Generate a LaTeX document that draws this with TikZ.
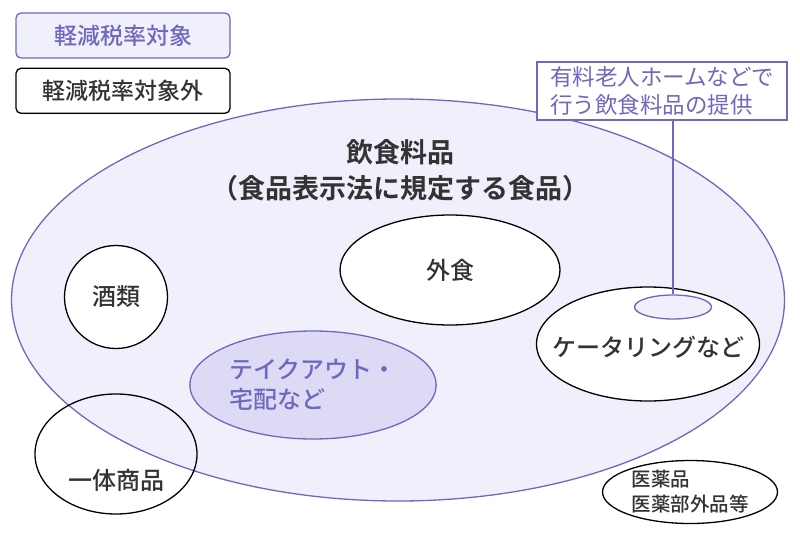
\documentclass[tikz,border=0pt]{standalone}
\usepackage{fontspec}
\setmainfont{Noto Sans CJK JP Medium}[BoldFont={Noto Sans CJK JP Bold}]
\newfontfamily\thinfont{Noto Sans CJK JP}
\usepackage{xcolor}
\usetikzlibrary{shapes.geometric,positioning}

\definecolor{lavfill}{RGB}{240,239,252}
\definecolor{lavdeep}{RGB}{221,218,245}
\definecolor{lavline}{RGB}{112,103,190}
\definecolor{lavtext}{RGB}{112,103,190}
\definecolor{inktext}{RGB}{51,51,51}

\begin{document}
\begin{tikzpicture}[
  x=1pt, y=-1pt,
  txt/.style={font=\fontsize{24}{30}\selectfont, text=inktext},
  zone/.style={ellipse, draw=black, line width=1.3pt, inner sep=0pt},
  legend/.style={rectangle, rounded corners=5pt, minimum width=214pt,
                 minimum height=45pt, line width=1.3pt, font=\fontsize{23}{29}\selectfont, text=inktext}
]
  \useasboundingbox (0,0) rectangle (800,536);

  % food & drink (whole set)
  \node[ellipse, draw=lavline, fill=lavfill, line width=1.3pt,
        minimum width=773pt, minimum height=402pt] (food) at (398,300) {};
  \node[txt, font=\bfseries\fontsize{27}{36}\selectfont, align=center] (title) at (400,170)
    {飲食料品\\（食品表示法に規定する食品）};

  \node[zone, fill=white, minimum width=103pt, minimum height=103pt, txt] (sake) at (116,297) {酒類};
  \node[zone, fill=white, minimum width=220pt, minimum height=110pt, txt] (gaishoku) at (450,270) {外食};
  \node[zone, fill=white, minimum width=223pt, minimum height=114pt, txt] (catering) at (648,344) {};
  \node[txt] at (648,347) {ケータリングなど};
  \node[ellipse, draw=lavline, fill=lavfill, line width=1.3pt,
        minimum width=77pt, minimum height=24pt] (rojin) at (673,307) {};

  \node[ellipse, draw=lavline, fill=lavdeep, line width=1.3pt,
        minimum width=245pt, minimum height=108pt, txt, text=lavtext, align=left] (takeout) at (313,385)
    {テイクアウト・\\宅配など};

  \node[zone, minimum width=162pt, minimum height=120pt] (ittai) at (116,454) {};
  \node[txt] at (116,480) {一体商品};

  \node[zone, fill=white, minimum width=175pt, minimum height=63pt,
        txt, font=\fontsize{19.5}{25}\selectfont, align=left] (iyaku) at (690,492)
    {医薬品\\医薬部外品等};

  % callout for elderly homes
  \node[rectangle, draw=lavline, fill=white, line width=1.3pt, minimum width=250pt,
        minimum height=58pt, align=left, inner sep=2pt,
        font=\thinfont\fontsize{22.5}{28}\selectfont, text=lavtext] (note) at (662,91)
    {有料老人ホームなどで\\行う飲食料品の提供};
  \draw[lavline, line width=1.3pt] (rojin.north) -- (rojin.north |- note.south);

  % legend
  \node[legend, draw=lavline, fill=lavfill, text=lavtext] (inscope) at (123,35.5) {軽減税率対象};
  \node[legend, draw=black, fill=white, below=9pt of inscope] (outscope) {軽減税率対象外};
\end{tikzpicture}
\end{document}
